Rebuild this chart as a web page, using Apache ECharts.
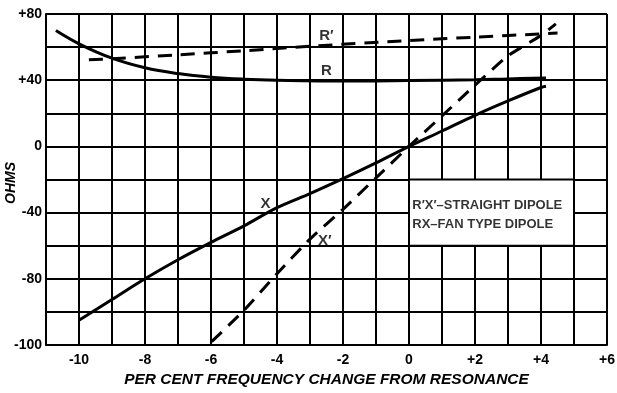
<!DOCTYPE html>
<html>
<head>
<meta charset="utf-8">
<script src="https://cdn.jsdelivr.net/npm/echarts@6/dist/echarts.min.js"></script>
<style>
html,body{margin:0;padding:0;background:#fff;}
#chart{width:617px;height:393px;}
</style>
</head>
<body>
<div id="chart"></div>
<script>
// ---- data ----
const rX      = [-10.7, -10, -9, -8, -7, -6, -5, -4, -2, 0, 2, 3, 4.15];
const rVals   = [70, 62, 53.3, 47.5, 44, 41.8, 40.6, 40, 39.5, 39.8, 40.3, 40.8, 41.3];

const rpX     = [-9.7, -9, -7, -5, -3, 0, 2, 4, 4.5];
const rpVals  = [52.3, 53, 55.3, 57.8, 60.5, 64, 66, 68, 68.5];

const xX      = [-10, -9, -8, -7, -6, -5, -4, -3, -2, -1, 0, 1, 2, 3, 4, 4.15];
const xVals   = [-105, -92.5, -80, -68.5, -58, -48, -37, -28.5, -19.5, -10, 0, 9.3, 18.8, 27.5, 35.6, 36.3];

const xpX     = [-5.98, -5, -4, -3, -2, -1, 0, 1, 2, 3, 4, 4.45];
const xpVals  = [-118, -99, -77, -56, -38, -19, 0, 18.4, 37, 54.7, 67, 74];

const xTickValues = [-10, -8, -6, -4, -2, 0, 2, 4, 6];
const xTickLabels = ['-10', '-8', '-6', '-4', '-2', '0', '+2', '+4', '+6'];
const yTickValues = [80, 40, 0, -40, -80, -120];
const yTickLabels = ['+80', '+40', '0', '-40', '-80', '-100'];

const curveLabelText = ['R\u2032', 'R', 'X', 'X\u2032'];
const curveLabelX    = [-2.5, -2.5, -4.35, -2.55];
const curveLabelY    = [66.7, 45.5, -35, -57];

const noteText = ['R\u2032X\u2032\u2013STRAIGHT DIPOLE', 'RX\u2013FAN TYPE DIPOLE'];
const noteX    = [0.1, 0.1];
const noteY    = [-35.8, -47.3];
const noteBox  = [[0, -20], [5, -60]];

const xTitle = 'PER CENT FREQUENCY CHANGE FROM RESONANCE';
const yTitle = 'OHMS';

// ---- build ----
const ink = '#000';
const zip = (a, b) => a.map((v, i) => [v, b[i]]);
const FONT = "'Liberation Sans', 'DejaVu Sans', sans-serif";

const chart = echarts.init(document.getElementById('chart'), null, {renderer: 'canvas'});
chart.setOption({
  backgroundColor: '#fff',
  animation: false,
  grid: {left: 46, right: 10, top: 14, bottom: 48, containLabel: false, outerBoundsMode: 'none'},
  graphic: [{
    type: 'text', x: 11, y: 183, rotation: Math.PI / 2,
    style: {text: yTitle, fill: ink, font: "italic bold 14px 'Liberation Sans', sans-serif",
            align: 'center', verticalAlign: 'middle'}
  }],
  xAxis: {
    type: 'value', min: -11, max: 6, interval: 1,
    axisLine: {show: true, onZero: false, lineStyle: {color: ink, width: 2}},
    axisTick: {show: false},
    splitLine: {show: true, lineStyle: {color: ink, width: 2}},
    axisLabel: {
      color: ink, fontFamily: FONT, fontWeight: 'bold', fontSize: 14, margin: 8,
      formatter: v => { const i = xTickValues.indexOf(v); return i >= 0 ? xTickLabels[i] : ''; }
    },
    name: xTitle, nameLocation: 'middle', nameGap: 26,
    nameTextStyle: {color: ink, fontFamily: FONT, fontWeight: 'bold', fontStyle: 'italic', fontSize: 15.5}
  },
  yAxis: {
    type: 'value', min: -120, max: 80, interval: 20,
    axisLine: {show: true, onZero: false, lineStyle: {color: ink, width: 2}},
    axisTick: {show: false},
    splitLine: {show: true, lineStyle: {color: ink, width: 2}},
    axisLabel: {
      color: ink, fontFamily: FONT, fontWeight: 'bold', fontSize: 14, margin: 4,
      formatter: v => { const i = yTickValues.indexOf(v); return i >= 0 ? yTickLabels[i] : ''; }
    }
  },
  series: [
    {
      type: 'scatter', data: [], z: 1, silent: true,
      markArea: {
        silent: true,
        itemStyle: {color: '#fff', borderColor: ink, borderWidth: 2},
        data: [[{coord: noteBox[0]}, {coord: noteBox[1]}]]
      }
    },
    {type: 'line', name: 'R', data: zip(rX, rVals), smooth: 0.4, showSymbol: false, z: 3,
     lineStyle: {color: ink, width: 3}},
    {type: 'line', name: 'R\u2032', data: zip(rpX, rpVals), smooth: 0.3, showSymbol: false, z: 3,
     lineStyle: {color: ink, width: 3, type: [14, 9]}},
    {type: 'line', name: 'X', data: zip(xX, xVals), smooth: 0.3, showSymbol: false, z: 3,
     lineStyle: {color: ink, width: 3}},
    {type: 'line', name: 'X\u2032', data: zip(xpX, xpVals), smooth: 0.2, showSymbol: false, z: 3,
     lineStyle: {color: ink, width: 3, type: [14, 9]}},
    {
      type: 'scatter', symbolSize: 0, z: 5, silent: true,
      data: curveLabelText.map((t, i) => ({value: [curveLabelX[i], curveLabelY[i]], name: t})),
      label: {show: true, position: 'inside', formatter: p => p.name,
              color: ink, fontFamily: FONT, fontWeight: 'bold', fontSize: 15}
    },
    {
      type: 'scatter', symbolSize: 0, z: 5, silent: true,
      data: noteText.map((t, i) => ({value: [noteX[i], noteY[i]], name: t})),
      label: {show: true, position: 'right', distance: 0, formatter: p => p.name,
              color: ink, fontFamily: "'Liberation Sans Narrow', 'Liberation Sans', sans-serif",
              fontWeight: 'bold', fontSize: 13}
    }
  ]
});
</script>
</body>
</html>
